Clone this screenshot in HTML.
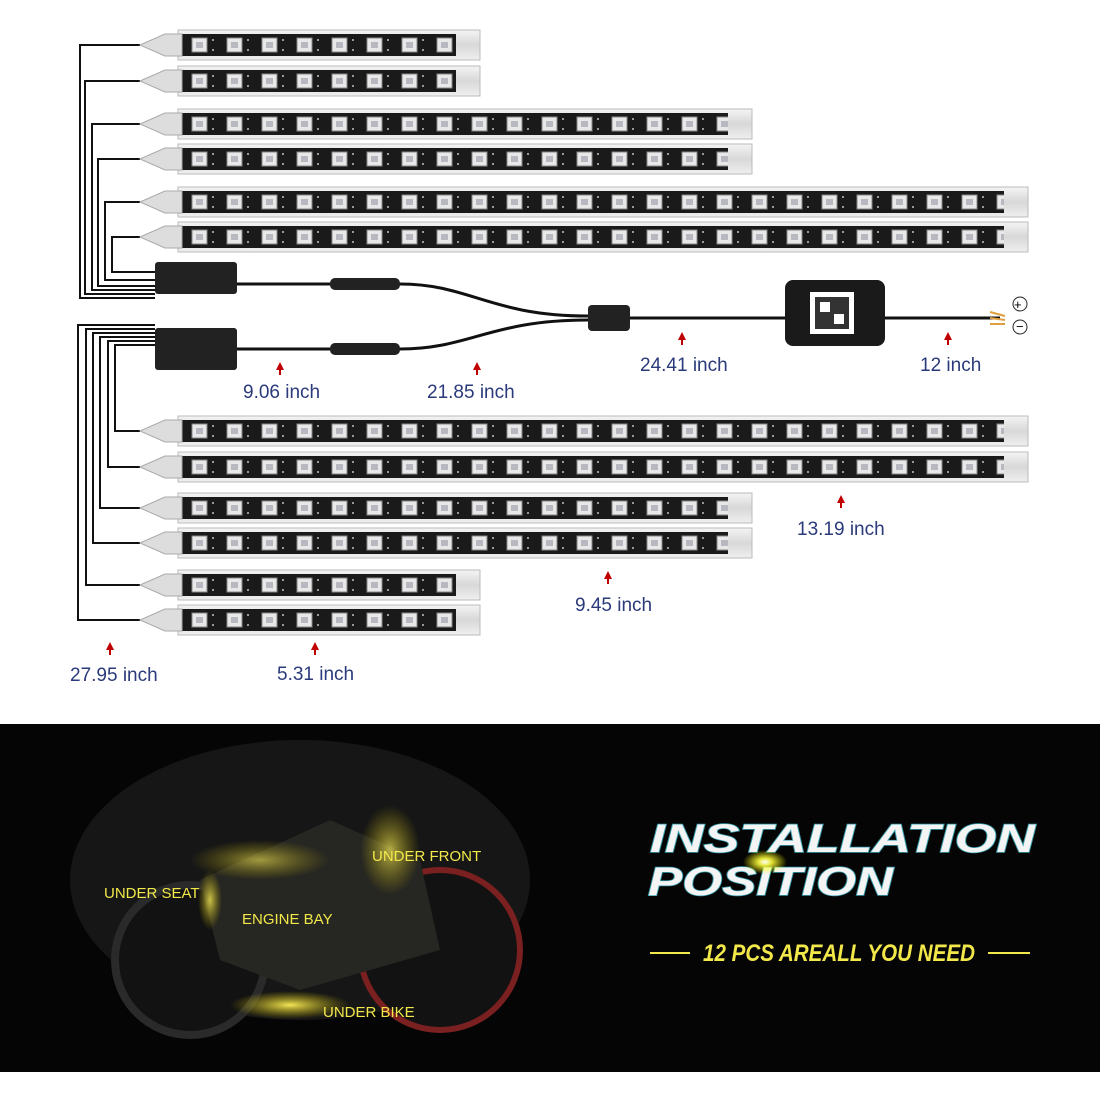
<!DOCTYPE html>
<html><head><meta charset="utf-8"><style>
html,body{margin:0;padding:0;background:#fff}
svg{display:block}
text{font-family:"Liberation Sans",sans-serif}
</style></head><body>
<svg width="1100" height="1100" viewBox="0 0 1100 1100" xmlns="http://www.w3.org/2000/svg">
<defs>
<pattern id="led" x="182" y="-11" width="35" height="22" patternUnits="userSpaceOnUse">
<rect x="0" y="0" width="35" height="22" fill="#1a1a1a"/>
<rect x="10" y="4" width="15" height="14" fill="#e8e8e8" stroke="#888" stroke-width="1"/>
<rect x="14" y="8" width="7" height="6" fill="#b8b8c0"/>
<rect x="30" y="5" width="2" height="2" fill="#999"/><rect x="30" y="15" width="2" height="2" fill="#999"/>
</pattern>
<linearGradient id="tube" x1="0" y1="0" x2="0" y2="1">
<stop offset="0" stop-color="#f4f4f4"/><stop offset="0.5" stop-color="#d8d8d8"/><stop offset="1" stop-color="#efefef"/>
</linearGradient>
<radialGradient id="glow"><stop offset="0" stop-color="#fff25a" stop-opacity="0.95"/><stop offset="1" stop-color="#c8b400" stop-opacity="0"/></radialGradient>
<radialGradient id="glow2"><stop offset="0" stop-color="#ffffff" stop-opacity="1"/><stop offset="0.3" stop-color="#ffff40" stop-opacity="0.9"/><stop offset="1" stop-color="#ffff00" stop-opacity="0"/></radialGradient>
<g id="cap"><path d="M140 0 L165 -11 H182 V11 H165 Z" fill="#ddd" stroke="#aaa"/></g>
</defs>

<rect width="1100" height="1100" fill="#fff"/>

<g stroke="#111" stroke-width="2" fill="none">
<path d="M140 45 H80 V298 H155"/>
<path d="M140 81 H85 V294 H155"/>
<path d="M140 124 H92 V290 H155"/>
<path d="M140 159 H98 V286 H155"/>
<path d="M140 202 H105 V280 H155"/>
<path d="M140 237 H112 V272 H155"/>
<path d="M140 431 H115 V345 H155"/>
<path d="M140 467 H108 V341 H155"/>
<path d="M140 508 H100 V337 H155"/>
<path d="M140 543 H93 V333 H155"/>
<path d="M140 585 H86 V329 H155"/>
<path d="M140 620 H78 V325 H155"/>
</g>

<g transform="translate(0,45)"><rect x="178" y="-15" width="302" height="30" fill="url(#tube)" stroke="#bbb"/><rect x="182" y="-11" width="274" height="22" fill="url(#led)"/><use href="#cap"/></g>
<g transform="translate(0,81)"><rect x="178" y="-15" width="302" height="30" fill="url(#tube)" stroke="#bbb"/><rect x="182" y="-11" width="274" height="22" fill="url(#led)"/><use href="#cap"/></g>
<g transform="translate(0,124)"><rect x="178" y="-15" width="574" height="30" fill="url(#tube)" stroke="#bbb"/><rect x="182" y="-11" width="546" height="22" fill="url(#led)"/><use href="#cap"/></g>
<g transform="translate(0,159)"><rect x="178" y="-15" width="574" height="30" fill="url(#tube)" stroke="#bbb"/><rect x="182" y="-11" width="546" height="22" fill="url(#led)"/><use href="#cap"/></g>
<g transform="translate(0,202)"><rect x="178" y="-15" width="850" height="30" fill="url(#tube)" stroke="#bbb"/><rect x="182" y="-11" width="822" height="22" fill="url(#led)"/><use href="#cap"/></g>
<g transform="translate(0,237)"><rect x="178" y="-15" width="850" height="30" fill="url(#tube)" stroke="#bbb"/><rect x="182" y="-11" width="822" height="22" fill="url(#led)"/><use href="#cap"/></g>
<g transform="translate(0,431)"><rect x="178" y="-15" width="850" height="30" fill="url(#tube)" stroke="#bbb"/><rect x="182" y="-11" width="822" height="22" fill="url(#led)"/><use href="#cap"/></g>
<g transform="translate(0,467)"><rect x="178" y="-15" width="850" height="30" fill="url(#tube)" stroke="#bbb"/><rect x="182" y="-11" width="822" height="22" fill="url(#led)"/><use href="#cap"/></g>
<g transform="translate(0,508)"><rect x="178" y="-15" width="574" height="30" fill="url(#tube)" stroke="#bbb"/><rect x="182" y="-11" width="546" height="22" fill="url(#led)"/><use href="#cap"/></g>
<g transform="translate(0,543)"><rect x="178" y="-15" width="574" height="30" fill="url(#tube)" stroke="#bbb"/><rect x="182" y="-11" width="546" height="22" fill="url(#led)"/><use href="#cap"/></g>
<g transform="translate(0,585)"><rect x="178" y="-15" width="302" height="30" fill="url(#tube)" stroke="#bbb"/><rect x="182" y="-11" width="274" height="22" fill="url(#led)"/><use href="#cap"/></g>
<g transform="translate(0,620)"><rect x="178" y="-15" width="302" height="30" fill="url(#tube)" stroke="#bbb"/><rect x="182" y="-11" width="274" height="22" fill="url(#led)"/><use href="#cap"/></g>

<rect x="155" y="262" width="82" height="32" rx="3" fill="#222"/>
<rect x="155" y="328" width="82" height="42" rx="3" fill="#222"/>
<g stroke="#111" stroke-width="3" fill="none">
<path d="M237 284 H330"/><path d="M400 284 C470 284 490 316 588 316"/>
<path d="M237 349 H330"/><path d="M400 349 C470 349 490 320 588 320"/>
<path d="M630 318 H785"/>
<path d="M885 318 H1000"/>
</g>
<rect x="330" y="278" width="70" height="12" rx="5" fill="#222"/>
<rect x="330" y="343" width="70" height="12" rx="5" fill="#222"/>
<rect x="588" y="305" width="42" height="26" rx="4" fill="#222"/>
<rect x="785" y="280" width="100" height="66" rx="8" fill="#1a1a1a"/>
<rect x="810" y="292" width="44" height="42" fill="#fff"/>
<rect x="815" y="297" width="34" height="32" fill="#333"/>
<rect x="820" y="302" width="10" height="10" fill="#fff"/>
<rect x="834" y="314" width="10" height="10" fill="#fff"/>
<path d="M990 312 L1005 316 M990 318 L1005 320 M990 324 L1005 324" stroke="#e0a040" stroke-width="2"/>
<circle cx="1020" cy="304" r="7" fill="none" stroke="#222"/><text x="1014" y="309" font-size="13">+</text>
<circle cx="1020" cy="327" r="7" fill="none" stroke="#222"/><text x="1016" y="331" font-size="13">−</text>

<g fill="#c00000">
<path d="M280 362 l-4 8 h8 z"/><rect x="279" y="369" width="2" height="6"/>
<path d="M477 362 l-4 8 h8 z"/><rect x="476" y="369" width="2" height="6"/>
<path d="M682 332 l-4 8 h8 z"/><rect x="681" y="339" width="2" height="6"/>
<path d="M948 332 l-4 8 h8 z"/><rect x="947" y="339" width="2" height="6"/>
<path d="M841 495 l-4 8 h8 z"/><rect x="840" y="502" width="2" height="6"/>
<path d="M608 571 l-4 8 h8 z"/><rect x="607" y="578" width="2" height="6"/>
<path d="M110 642 l-4 8 h8 z"/><rect x="109" y="649" width="2" height="6"/>
<path d="M315 642 l-4 8 h8 z"/><rect x="314" y="649" width="2" height="6"/>
</g>
<g fill="#2a3a7a" font-size="19">
<text x="243" y="398">9.06 inch</text>
<text x="427" y="398">21.85 inch</text>
<text x="640" y="371">24.41 inch</text>
<text x="920" y="371">12 inch</text>
<text x="797" y="535">13.19 inch</text>
<text x="575" y="611">9.45 inch</text>
<text x="70" y="681">27.95 inch</text>
<text x="277" y="680">5.31 inch</text>
</g>

<rect x="0" y="724" width="1100" height="348" fill="#050505"/>
<g>
<ellipse cx="300" cy="880" rx="230" ry="140" fill="#161616"/>
<circle cx="440" cy="950" r="80" fill="#121212" stroke="#7a2020" stroke-width="6"/>
<circle cx="190" cy="960" r="75" fill="#121212" stroke="#2a2a2a" stroke-width="8"/>
<path d="M200 880 L330 820 L420 860 L440 950 L300 990 L220 960 Z" fill="#262622"/>
<ellipse cx="260" cy="860" rx="70" ry="20" fill="url(#glow)" opacity="0.6"/>
<ellipse cx="290" cy="1005" rx="60" ry="14" fill="url(#glow)"/>
<ellipse cx="390" cy="850" rx="30" ry="45" fill="url(#glow)" opacity="0.7"/>
<ellipse cx="210" cy="900" rx="12" ry="30" fill="url(#glow)" opacity="0.8"/>
</g>
<g fill="#f2e84a" font-size="15">
<text x="372" y="861">UNDER FRONT</text>
<text x="104" y="898">UNDER SEAT</text>
<text x="242" y="924">ENGINE BAY</text>
<text x="323" y="1017">UNDER BIKE</text>
</g>
<g font-weight="bold" font-style="italic" fill="#f4f4f4" stroke="#3aa0b0" stroke-width="1.5" paint-order="stroke">
<text x="650" y="852" font-size="40" textLength="385" lengthAdjust="spacingAndGlyphs">INSTALLATION</text>
<text x="648" y="895" font-size="40" textLength="245" lengthAdjust="spacingAndGlyphs">POSITION</text>
</g>
<ellipse cx="765" cy="862" rx="22" ry="12" fill="url(#glow2)"/>
<g stroke="#f2e84a" stroke-width="2"><path d="M650 953 H690"/><path d="M988 953 H1030"/></g>
<text x="703" y="961" font-size="24" font-weight="bold" font-style="italic" fill="#f2e84a" textLength="272" lengthAdjust="spacingAndGlyphs">12 PCS AREALL YOU NEED</text>
</svg>
</body></html>
